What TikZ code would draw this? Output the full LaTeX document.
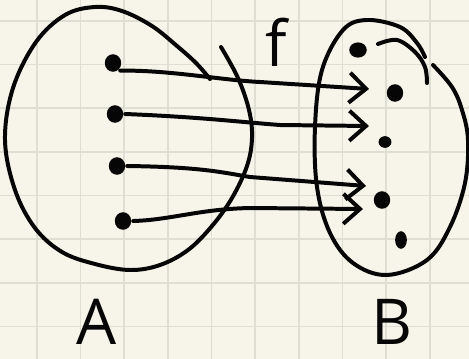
\documentclass[tikz,border=0pt]{standalone}
\usepackage{fontspec}
\setmainfont{Open Sans}
\usetikzlibrary{arrows.meta, positioning}
\definecolor{cpaper}{HTML}{F7F5EA}
\definecolor{cgrid}{HTML}{DFDED2}
\definecolor{cink}{HTML}{060606}
\tikzset{
  every picture/.style={line width=3.4pt, line cap=round, line join=round},
  ink/.style={draw=cink},
  gridline/.style={draw=cgrid, line width=1.4pt},
  elem/.style={ellipse, fill=cink, inner sep=0pt, minimum width=14pt, minimum height=15pt},
  maparrow/.style={ink, -{Straight Barb[length=5mm, width=9mm, line width=3.4pt]}},
  setlabel/.style={font=\fontsize{54}{54}\selectfont, text=cink, inner sep=0pt, anchor=base},
}
\usetikzlibrary{shapes.geometric}
\begin{document}
\begin{tikzpicture}[x=0.03cm, y=-0.03cm]
  % paper and grid
  \fill[cpaper] (0,0) rectangle (469,359);
  \useasboundingbox (0,0) rectangle (469,359);
  \foreach \gx in {0,...,9} \draw[gridline] ({36.7+43.7*\gx},0) -- ({36.7+43.7*\gx},359);
  \foreach \gy in {0,...,7} \draw[gridline] (0,{20.7+43.7*\gy}) -- (469,{20.7+43.7*\gy});

  % set A
  \draw[ink] plot[smooth, tension=0.6] coordinates {(210,79) (196,63) (177,46) (152,26) (122,11) (95,7) (65,15) (36,42) (13,88) (5,140) (15,190) (35,228) (62,252) (95,264) (130,270) (160,265) (188,250) (212,226) (232,198) (247,166) (252,138) (249,110) (238,78) (221,47)};

  % set B
  \draw[ink] plot[smooth, tension=0.6] coordinates {(425,57) (417,43) (400,27) (367,20) (343,30) (322,70) (315,127) (317,187) (330,233) (353,263) (387,275) (427,260) (450,227) (465,183) (468,140) (462,110) (452,87) (433,65)};
  \draw[ink] plot[smooth, tension=0.6] coordinates {(378,44) (397,40) (415,52) (425,67) (427,83)};

  % elements
  \node[elem] (a1) at (113,63) {};
  \node[elem] (a2) at (115,114) {};
  \node[elem] (a3) at (117,166) {};
  \node[elem] (a4) at (123,221) {};
  \node[elem, minimum width=15pt, minimum height=13pt] (b1) at (358,50) {};
  \node[elem] (b2) at (395,93) {};
  \node[elem, minimum width=11pt, minimum height=10pt] (b3) at (385,142) {};
  \node[elem] (b4) at (382,200) {};
  \node[elem, minimum width=10pt, minimum height=15pt] (b5) at (401,240) {};

  % arrow ends
  \coordinate (t1) at (369,89);
  \coordinate (t2) at (369,126);
  \coordinate (t3) at (366,186);
  \coordinate (t4) at (363,209);

  % the map f
  \draw[maparrow] (a1.south east) .. controls (170,70) and (220,80) .. (260,82) -- (t1);
  \draw[maparrow] (a2.east) .. controls (200,117) and (240,122) .. (280,125) -- (t2);
  \draw[maparrow] (a3.east) .. controls (200,167) and (220,172) .. (250,177) -- (t3);
  \draw[maparrow] (a4.east) .. controls (170,220) and (200,209) .. (250,208) -- (t4);

  % labels
  \node[setlabel] (lf) at (276,66) {f};
  \node[setlabel] (lA) at (97,344) {A};
  \node[setlabel] (lB) at (392,344) {B};
\end{tikzpicture}
\end{document}
